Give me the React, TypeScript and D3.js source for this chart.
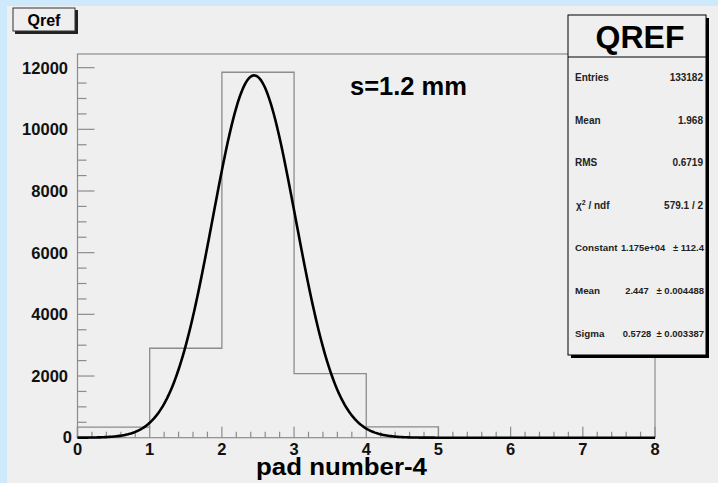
import React from "react";
import * as d3 from "d3";

const binEdges = [0, 1, 2, 3, 4, 5, 6, 7, 8];
const binCounts = [340, 2900, 11850, 2080, 350, 0, 0, 0];
const xTickValues = [0, 1, 2, 3, 4, 5, 6, 7, 8];
const yTickValues = [0, 2000, 4000, 6000, 8000, 10000, 12000];
const fitConstant = 11750;
const fitMean = 2.447;
const fitSigma = 0.5728;
const statsTitle = "QREF";
const histTitle = "Qref";
const xAxisTitle = "pad number-4";
const annotation = "s=1.2 mm";
const statsLabels = ["Entries", "Mean", "RMS", "χ² / ndf", "Constant", "Mean", "Sigma"];
const statsValues = ["133182", "1.968", "0.6719", "579.1 / 2", "1.175e+04", "2.447", "0.5728"];
const statsErrors = ["", "", "", "", "± 112.4", "± 0.004488", "± 0.003387"];

const W = 718;
const H = 483;
const FONT = "'Liberation Sans', Arial, Helvetica, sans-serif";

export default function App() {
  const yMax = d3.max(binCounts)! * 1.05;
  const x = d3.scaleLinear().domain([0, 8]).range([77.5, 655]);
  const y = d3.scaleLinear().domain([0, yMax]).range([437.7, 54]);

  let histPath = `M${x(binEdges[0])},${y(0)}`;
  binCounts.forEach((c, i) => {
    histPath += `L${x(binEdges[i])},${y(c)}L${x(binEdges[i + 1])},${y(c)}`;
  });
  histPath += `L${x(binEdges[binEdges.length - 1])},${y(0)}`;

  const gauss = (v: number) =>
    fitConstant * Math.exp(-0.5 * ((v - fitMean) / fitSigma) ** 2);
  const samples = d3.range(0, 8.0001, 0.02);
  const line = d3
    .line<number>()
    .x((d) => x(d))
    .y((d) => y(gauss(d)));

  const xMinor = d3.range(0, 8.0001, 0.2);
  const yMinor = d3.range(0, yMax, 500);

  const axisColor = "#8c8c8c";

  const boxL = 568;
  const boxR = 706;
  const boxT = 15;
  const boxB = 355;
  const sepY = 57;
  const rowY0 = 81;
  const rowStep = 42.6;

  return (
    <svg
      width={W}
      height={H}
      style={{ position: "absolute", left: 0, top: 0, display: "block" }}
      fontFamily={FONT}
    >
      <rect x={0} y={0} width={W} height={H} fill="#cde9fb" />
      <rect x={7} y={6} width={W - 7} height={H - 6} fill="#efefef" />

      <rect
        x={x(0)}
        y={y(yMax)}
        width={x(8) - x(0)}
        height={y(0) - y(yMax)}
        fill="none"
        stroke={axisColor}
        strokeWidth={1.2}
      />

      {yMinor.map((v) => (
        <line
          key={"ym" + v}
          x1={x(0)}
          x2={x(0) + (v % 2000 === 0 ? 17 : 9)}
          y1={y(v)}
          y2={y(v)}
          stroke={axisColor}
          strokeWidth={1.2}
        />
      ))}
      {yTickValues.map((v) => (
        <text
          key={"yl" + v}
          x={v === 0 ? 72 : 68}
          y={v === 0 ? y(v) - 1 : y(v)}
          dy="0.36em"
          textAnchor="end"
          fontSize={16.5}
          fontWeight="bold"
          fill="#111"
        >
          {v}
        </text>
      ))}

      {xMinor.map((v) => {
        const major = Math.abs(v - Math.round(v)) < 1e-6;
        return (
          <line
            key={"xm" + v}
            x1={x(v)}
            x2={x(v)}
            y1={y(0)}
            y2={y(0) - (major ? 11 : 6)}
            stroke={axisColor}
            strokeWidth={1.2}
          />
        );
      })}
      {xTickValues.map((v) => (
        <text
          key={"xl" + v}
          x={x(v)}
          y={455}
          textAnchor="middle"
          fontSize={16.5}
          fontWeight="bold"
          fill="#111"
        >
          {v}
        </text>
      ))}

      <path d={histPath} fill="none" stroke={axisColor} strokeWidth={1.3} />

      <path d={line(samples)!} fill="none" stroke="#000" strokeWidth={2.6} />

      <text x={350} y={95} fontSize={25.5} fontWeight="bold" fill="#000">
        {annotation}
      </text>

      <text x={256} y={475} fontSize={24.5} fontWeight="bold" fill="#000" textLength={171} lengthAdjust="spacingAndGlyphs">
        {xAxisTitle}
      </text>

      <rect x={15} y={10} width={63} height={24} fill="#222" />
      <rect x={13} y={8} width={62} height={23} fill="#efefef" stroke="#333" strokeWidth={1} />
      <text x={44} y={26} textAnchor="middle" fontSize={16} fontWeight="bold" fill="#000">
        {histTitle}
      </text>

      <rect x={boxL + 3} y={boxT + 3} width={boxR - boxL} height={boxB - boxT} fill="#000" />
      <rect
        x={boxL}
        y={boxT}
        width={boxR - boxL}
        height={boxB - boxT}
        fill="#efefef"
        stroke="#000"
        strokeWidth={1}
      />
      <line x1={boxL} x2={boxR} y1={sepY} y2={sepY} stroke="#000" strokeWidth={1} />
      <text
        x={(boxL + boxR) / 2 + 3}
        y={48}
        textAnchor="middle"
        fontSize={32}
        fontWeight="bold"
        fill="#000"
      >
        {statsTitle}
      </text>
      {statsLabels.map((lab, i) => {
        const yy = rowY0 + i * rowStep;
        const isFit = statsErrors[i] !== "";
        const valX = statsValues[i].length > 7 ? 643 : 637;
        return (
          <g key={"st" + i} fontSize={10} fontWeight="bold" fill="#222">
            {lab.startsWith("χ") ? (
              <text x={576} y={yy}>
                χ<tspan dy={-4} fontSize={7}>2</tspan>
                <tspan dy={4}> / ndf</tspan>
              </text>
            ) : (
              <text x={575} y={yy} fontSize={isFit ? 9.8 : 10}>
                {lab}
              </text>
            )}
            {isFit ? (
              <>
                <text x={valX} y={yy} textAnchor="middle" fontSize={9.3}>
                  {statsValues[i]}
                </text>
                <text x={704} y={yy} textAnchor="end" fontSize={9.5}>
                  {statsErrors[i]}
                </text>
              </>
            ) : (
              <text x={703} y={yy} textAnchor="end">
                {statsValues[i]}
              </text>
            )}
          </g>
        );
      })}
    </svg>
  );
}
